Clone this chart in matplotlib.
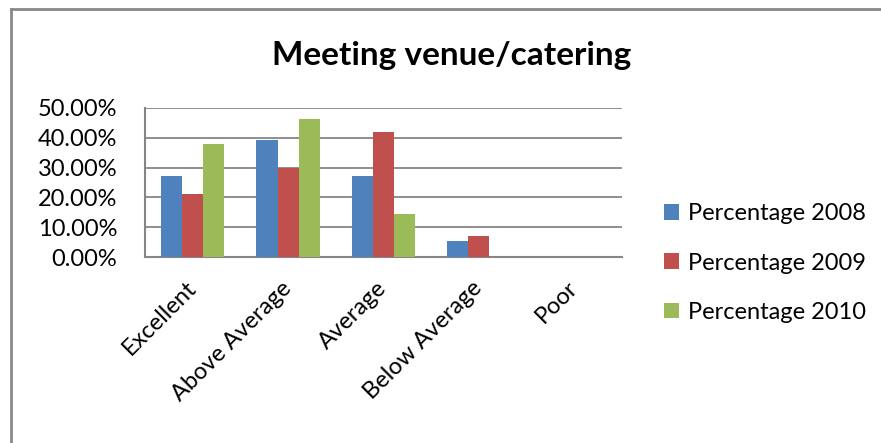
import numpy as np
import matplotlib.pyplot as plt
from matplotlib.lines import Line2D
from matplotlib.ticker import FuncFormatter

plt.rcParams['font.family'] = ['Lato', 'DejaVu Sans']

categories = ['Excellent', 'Above Average', 'Average', 'Below Average', 'Poor']
pct_2008 = [27.3, 39.1, 27.3, 5.5, 0.0]
pct_2009 = [21.0, 30.0, 41.9, 7.0, 0.0]
pct_2010 = [38.0, 46.3, 14.4, 0.0, 0.0]
series_names = ['Percentage 2008', 'Percentage 2009', 'Percentage 2010']
colors = ['#4F81BD', '#C0504D', '#9BBB59']

fig = plt.figure(figsize=(8.81, 4.43), dpi=100)
ax = fig.add_axes([145 / 881, 1 - 257 / 443, 477 / 881, 149 / 443])

x = np.arange(len(categories))
w = 0.222
for i, (vals, name, c) in enumerate(zip([pct_2008, pct_2009, pct_2010], series_names, colors)):
    ax.bar(x + (i - 1) * w, vals, width=w, color=c, label=name, zorder=3)

ax.set_xlim(-0.5, len(categories) - 0.5)
ax.set_ylim(0, 50)
ax.set_yticks(np.arange(0, 51, 10))
ax.yaxis.set_major_formatter(FuncFormatter(lambda v, p: '{:.2f}%'.format(v)))
ax.grid(axis='y', color='#868686', linewidth=1.3, zorder=0)
ax.set_xticks(x)
ax.set_xticklabels(categories, rotation=45, ha='right', va='center', rotation_mode='anchor')
ax.tick_params(axis='both', length=0, labelsize=17)
ax.tick_params(axis='x', pad=20)
ax.tick_params(axis='y', pad=20)

for s in ['top', 'right']:
    ax.spines[s].set_visible(False)
for s in ['left', 'bottom']:
    ax.spines[s].set_color('#868686')
    ax.spines[s].set_linewidth(1.5)

fig.text(452 / 881, 1 - 55 / 443, 'Meeting venue/catering', ha='center', va='center',
         fontsize=24, fontweight='bold')

fig.legend(loc='center left', bbox_to_anchor=(664 / 881, 1 - 263 / 443), frameon=False,
           borderpad=0, borderaxespad=0,
           fontsize=17, handlelength=0.65, handleheight=0.65, handletextpad=0.35, labelspacing=1.2)

# chart border
fig.add_artist(Line2D([11 / 881, 11 / 881], [0, 1 - 9 / 443], color='#898989', linewidth=2, transform=fig.transFigure))
fig.add_artist(Line2D([11 / 881, 1], [1 - 9 / 443, 1 - 9 / 443], color='#898989', linewidth=2, transform=fig.transFigure))

fig.savefig('out.png', dpi=100)
